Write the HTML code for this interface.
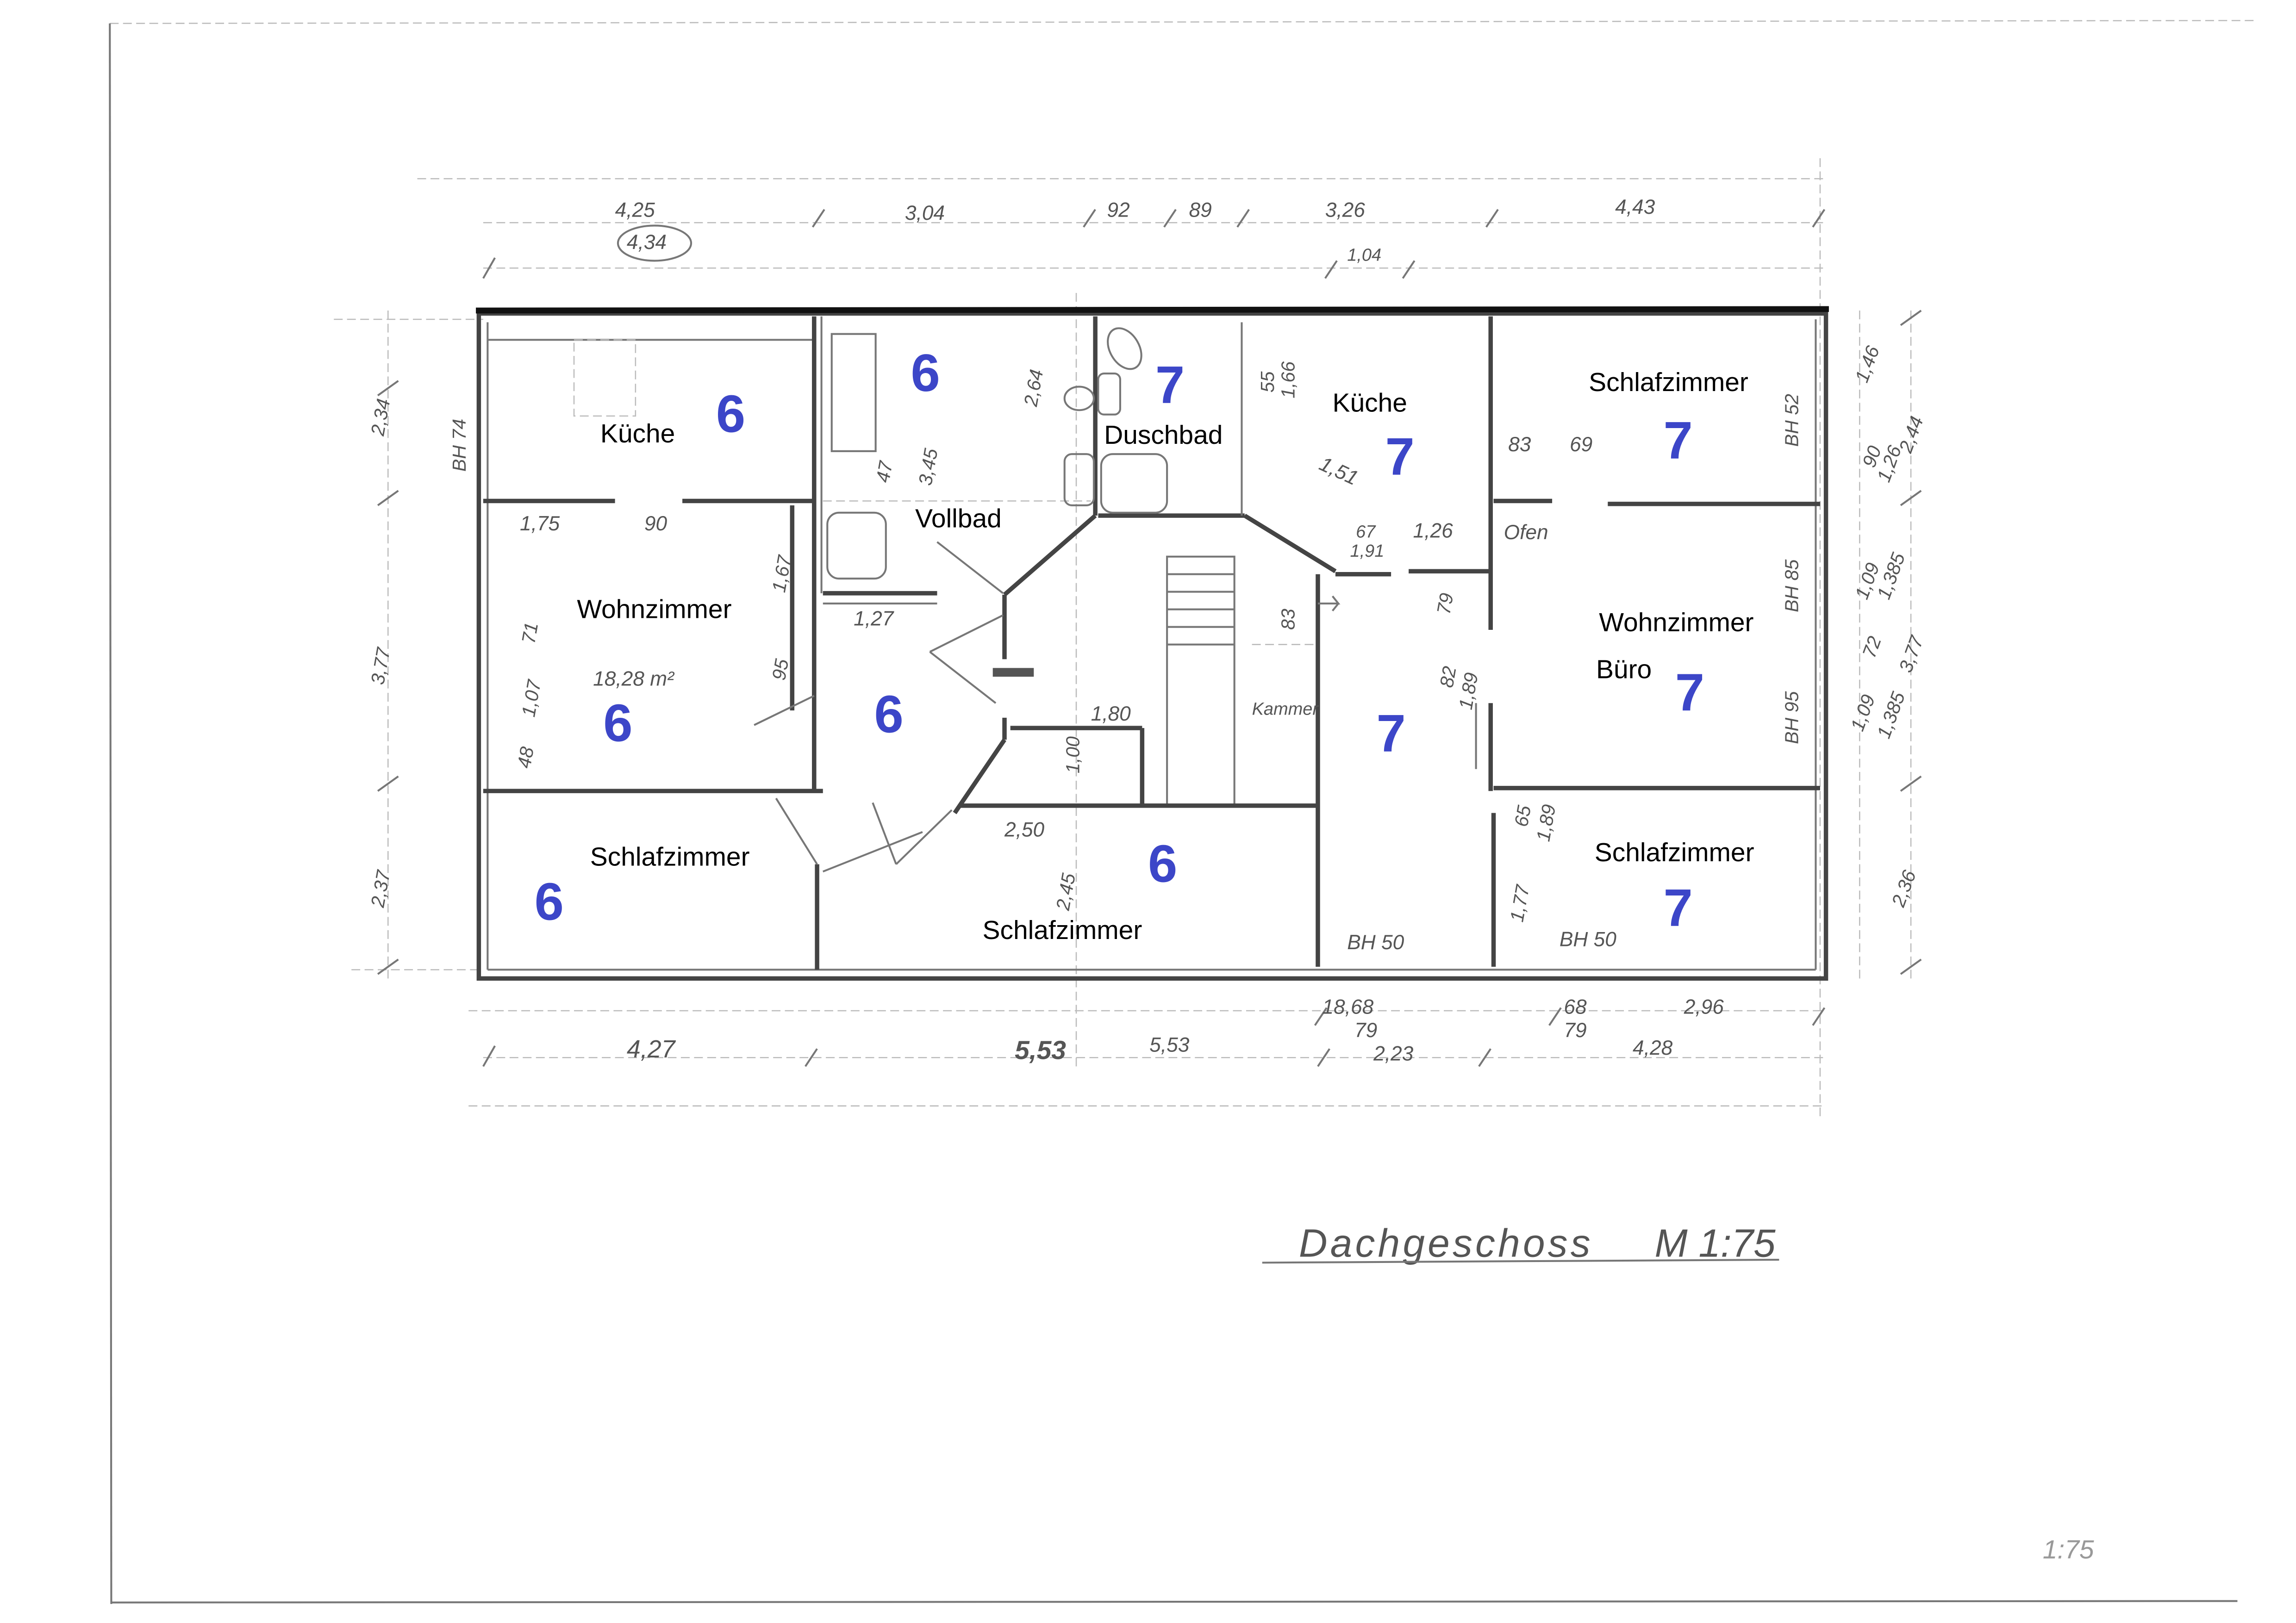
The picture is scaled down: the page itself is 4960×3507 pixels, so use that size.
<!DOCTYPE html>
<html><head><meta charset="utf-8"><style>
html,body{margin:0;padding:0;background:#fff;}
svg{display:block;}
.w{stroke:#444;stroke-width:3;fill:none;}
.t{stroke:#777;stroke-width:1.3;fill:none;}
.d{stroke:#bbb;stroke-width:0.8;fill:none;stroke-dasharray:6 3;}
.lab{font-family:"Liberation Sans",sans-serif;font-size:18px;fill:#000;}
.num{font-family:"Liberation Sans",sans-serif;font-size:36px;font-weight:bold;fill:#3c46c8;}
.h{font-family:"Liberation Sans",sans-serif;font-style:italic;font-size:14px;fill:#555;}
</style></head><body>
<svg width="4960" height="3507" viewBox="0 0 1568 1108" preserveAspectRatio="none" xmlns="http://www.w3.org/2000/svg">
<rect width="1568" height="1108" fill="#fff"/>
<line class="d" x1="75" y1="16" x2="1540" y2="14"/>
<line class="t" x1="75" y1="16" x2="76" y2="1095"/>
<line class="t" x1="76" y1="1094" x2="1528" y2="1093"/>
<line class="d" x1="330" y1="183" x2="1245" y2="183"/>
<line class="d" x1="330" y1="152" x2="1245" y2="152"/>
<line class="d" x1="285" y1="122" x2="1245" y2="122"/>
<line class="d" x1="330" y1="722" x2="1245" y2="722"/>
<line class="d" x1="320" y1="690" x2="1245" y2="690"/>
<line class="d" x1="320" y1="755" x2="1245" y2="755"/>
<line class="d" x1="265" y1="212" x2="265" y2="668"/>
<line class="d" x1="1305" y1="212" x2="1305" y2="668"/>
<line class="d" x1="1270" y1="212" x2="1270" y2="668"/>
<line class="d" x1="1243" y1="108" x2="1243" y2="765"/>
<line class="d" x1="228" y1="218" x2="330" y2="218"/>
<line class="d" x1="240" y1="662" x2="330" y2="662"/>
<line class="d" x1="735" y1="200" x2="735" y2="730"/>
<line class="d" x1="855" y1="440" x2="900" y2="440"/>
<g class="t">
<path d="M330 190l8-14M555 155l8-12M740 155l8-12M795 155l8-12M845 155l8-12M1015 155l8-12M1238 155l8-12M905 190l8-12M958 190l8-12"/>
<path d="M258 270l14-10M258 345l14-10M258 540l14-10M258 665l14-10M1298 345l14-10M1298 540l14-10M1298 665l14-10M1298 222l14-10"/>
<path d="M330 728l8-14M550 728l8-12M1010 728l8-12M900 728l8-12M1238 700l8-12M1058 700l8-12M898 700l8-12"/>
</g>
<ellipse cx="447" cy="166" rx="25" ry="12" class="t"/>
<rect x="327" y="214" width="920" height="454" class="w"/>
<line x1="325" y1="212" x2="1249" y2="211" stroke="#111" stroke-width="4"/>
<line class="t" x1="333" y1="220" x2="333" y2="662"/>
<line class="t" x1="333" y1="662" x2="1240" y2="662"/>
<line class="t" x1="1240" y1="218" x2="1240" y2="662"/>
<line class="w" x1="330" y1="342" x2="420" y2="342"/>
<line class="w" x1="466" y1="342" x2="556" y2="342"/>
<line class="t" x1="333" y1="232" x2="556" y2="232"/>
<rect x="392" y="232" width="42" height="52" class="d" stroke="#777"/>
<line class="w" x1="556" y1="216" x2="556" y2="540"/>
<line class="t" x1="561" y1="216" x2="561" y2="405"/>
<line class="w" x1="330" y1="540" x2="562" y2="540"/>
<line class="w" x1="541" y1="345" x2="541" y2="485"/>
<line class="w" x1="558" y1="590" x2="558" y2="662"/>
<line class="t" x1="530" y1="545" x2="558" y2="590"/>
<line class="t" x1="515" y1="495" x2="556" y2="475"/>
<line class="t" x1="562" y1="595" x2="630" y2="568"/>
<line class="w" x1="748" y1="216" x2="748" y2="352"/>
<line class="w" x1="748" y1="352" x2="686" y2="406"/>
<line class="w" x1="562" y1="405" x2="640" y2="405"/>
<line class="t" x1="562" y1="412" x2="640" y2="412"/>
<rect x="568" y="228" width="30" height="80" class="t"/>
<rect x="565" y="350" width="40" height="45" rx="8" class="t"/>
<line class="d" x1="562" y1="342" x2="745" y2="342" stroke="#777"/>
<line class="t" x1="640" y1="370" x2="685" y2="405"/>
<line class="w" x1="686" y1="406" x2="686" y2="450"/>
<line class="w" x1="686" y1="490" x2="686" y2="505"/>
<line class="w" x1="686" y1="505" x2="652" y2="555"/>
<line class="t" x1="635" y1="445" x2="685" y2="420"/>
<line class="t" x1="635" y1="445" x2="680" y2="480"/>
<path d="M678 456h28v6h-28z" fill="#555"/>
<line class="w" x1="690" y1="497" x2="780" y2="497"/>
<line class="w" x1="780" y1="497" x2="780" y2="550"/>
<line class="t" x1="596" y1="548" x2="612" y2="590"/>
<line class="t" x1="612" y1="590" x2="650" y2="553"/>
<line class="w" x1="750" y1="352" x2="850" y2="352"/>
<line class="w" x1="850" y1="352" x2="912" y2="390"/>
<line class="t" x1="848" y1="220" x2="848" y2="352"/>
<ellipse cx="768" cy="238" rx="10" ry="15" class="t" transform="rotate(-30 768 238)"/>
<rect x="750" y="255" width="15" height="28" rx="4" class="t"/>
<ellipse cx="737" cy="272" rx="10" ry="8" class="t"/>
<rect x="752" y="310" width="45" height="40" rx="8" class="t"/>
<rect x="727" y="310" width="20" height="35" rx="5" class="t"/>
<rect x="797" y="380" width="46" height="170" class="t"/>
<g class="t"><path d="M797 392h46M797 404h46M797 416h46M797 428h46M797 440h46"/></g>
<line class="w" x1="655" y1="550" x2="900" y2="550" stroke-width="1.5"/>
<line class="w" x1="900" y1="392" x2="900" y2="660"/>
<line class="w" x1="912" y1="392" x2="950" y2="392"/>
<line class="w" x1="962" y1="390" x2="1018" y2="390"/>
<path d="M900 412h14l-4-5M914 412l-4 5" class="t"/>
<line class="w" x1="1018" y1="216" x2="1018" y2="430"/>
<line class="w" x1="1018" y1="480" x2="1018" y2="540"/>
<line class="w" x1="1020" y1="555" x2="1020" y2="660"/>
<line class="t" x1="1008" y1="480" x2="1008" y2="525"/>
<line class="w" x1="1020" y1="342" x2="1060" y2="342"/>
<line class="w" x1="1098" y1="344" x2="1243" y2="344"/>
<line class="w" x1="1020" y1="538" x2="1243" y2="538"/>
<text class="lab" x="410" y="302">Küche</text>
<text class="lab" x="394" y="422">Wohnzimmer</text>
<text class="lab" x="403" y="591">Schlafzimmer</text>
<text class="lab" x="625" y="360">Vollbad</text>
<text class="lab" x="754" y="303">Duschbad</text>
<text class="lab" x="910" y="281">Küche</text>
<text class="lab" x="1085" y="267">Schlafzimmer</text>
<text class="lab" x="1092" y="431">Wohnzimmer</text>
<text class="lab" x="1090" y="463">Büro</text>
<text class="lab" x="1089" y="588">Schlafzimmer</text>
<text class="lab" x="671" y="641">Schlafzimmer</text>
<text class="num" x="489" y="295">6</text>
<text class="num" x="622" y="267">6</text>
<text class="num" x="412" y="506">6</text>
<text class="num" x="597" y="500">6</text>
<text class="num" x="365" y="628">6</text>
<text class="num" x="784" y="602">6</text>
<text class="num" x="789" y="275">7</text>
<text class="num" x="946" y="324">7</text>
<text class="num" x="1136" y="313">7</text>
<text class="num" x="1144" y="485">7</text>
<text class="num" x="940" y="513">7</text>
<text class="num" x="1136" y="632">7</text>
<text class="h" x="420" y="148">4,25</text>
<text class="h" x="428" y="170">4,34</text>
<text class="h" x="618" y="150">3,04</text>
<text class="h" x="756" y="148">92</text>
<text class="h" x="812" y="148">89</text>
<text class="h" x="905" y="148">3,26</text>
<text class="h" x="1103" y="146">4,43</text>
<text class="h" x="920" y="178" style="font-size:12px">1,04</text>
<text class="h" x="428" y="722" style="font-size:17px">4,27</text>
<text class="h" x="693" y="723" style="font-size:18px;font-weight:bold">5,53</text>
<text class="h" x="785" y="718">5,53</text>
<text class="h" x="903" y="692">18,68</text>
<text class="h" x="925" y="708">79</text>
<text class="h" x="938" y="724">2,23</text>
<text class="h" x="1068" y="692">68</text>
<text class="h" x="1068" y="708">79</text>
<text class="h" x="1150" y="692">2,96</text>
<text class="h" x="1115" y="720">4,28</text>
<text class="h" x="355" y="362">1,75</text>
<text class="h" x="440" y="362">90</text>
<text class="h" x="583" y="427">1,27</text>
<text class="h" x="405" y="468">18,28 m²</text>
<text class="h" x="745" y="492">1,80</text>
<text class="h" x="686" y="571">2,50</text>
<text class="h" x="926" y="367" style="font-size:12px">67</text>
<text class="h" x="965" y="367">1,26</text>
<text class="h" x="922" y="380" style="font-size:12px">1,91</text>
<text class="h" x="1030" y="308">83</text>
<text class="h" x="1072" y="308">69</text>
<text class="h" x="1027" y="368">Ofen</text>
<text class="h" x="855" y="488" style="font-size:12px">Kammer</text>
<text class="h" x="920" y="648">BH 50</text>
<text class="h" x="1065" y="646">BH 50</text>
<text class="h" x="900" y="320" transform="rotate(25 900 320)">1,51</text>
<g class="h" style="font-size:13px">
<text transform="translate(262 298) rotate(-80)">2,34</text>
<text transform="translate(262 468) rotate(-80)">3,77</text>
<text transform="translate(262 620) rotate(-80)">2,37</text>
<text transform="translate(318 322) rotate(-90)">BH 74</text>
<text transform="translate(536 405) rotate(-80)">1,67</text>
<text transform="translate(536 465) rotate(-80)">95</text>
<text transform="translate(365 490) rotate(-80)">1,07</text>
<text transform="translate(365 440) rotate(-80)">71</text>
<text transform="translate(362 525) rotate(-80)">48</text>
<text transform="translate(607 330) rotate(-80)">47</text>
<text transform="translate(636 332) rotate(-80)">3,45</text>
<text transform="translate(708 278) rotate(-80)">2,64</text>
<text transform="translate(737 528) rotate(-90)">1,00</text>
<text transform="translate(730 622) rotate(-80)">2,45</text>
<text transform="translate(870 268) rotate(-90)">55</text>
<text transform="translate(884 272) rotate(-90)">1,66</text>
<text transform="translate(884 430) rotate(-90)">83</text>
<text transform="translate(990 420) rotate(-80)">79</text>
<text transform="translate(992 470) rotate(-80)">82</text>
<text transform="translate(1005 485) rotate(-80)">1,89</text>
<text transform="translate(1043 565) rotate(-80)">65</text>
<text transform="translate(1058 575) rotate(-80)">1,89</text>
<text transform="translate(1040 630) rotate(-80)">1,77</text>
<text transform="translate(1228 305) rotate(-90)">BH 52</text>
<text transform="translate(1228 418) rotate(-90)">BH 85</text>
<text transform="translate(1228 508) rotate(-90)">BH 95</text>
<text transform="translate(1275 262) rotate(-70)">1,46</text>
<text transform="translate(1305 310) rotate(-70)">2,44</text>
<text transform="translate(1280 320) rotate(-70)">90</text>
<text transform="translate(1290 330) rotate(-70)">1,26</text>
<text transform="translate(1275 410) rotate(-70)">1,09</text>
<text transform="translate(1290 410) rotate(-70)">1,385</text>
<text transform="translate(1280 450) rotate(-70)">72</text>
<text transform="translate(1305 460) rotate(-70)">3,77</text>
<text transform="translate(1272 500) rotate(-70)">1,09</text>
<text transform="translate(1290 505) rotate(-70)">1,385</text>
<text transform="translate(1300 620) rotate(-70)">2,36</text>
</g>
<text class="h" x="887" y="858" style="font-size:27px;letter-spacing:2px">Dachgeschoss</text>
<text class="h" x="1130" y="858" style="font-size:27px">M 1:75</text>
<line class="t" x1="862" y1="862" x2="1215" y2="860"/>
<text class="h" x="1395" y="1064" style="font-size:18px;fill:#999">1:75</text>
</svg>
</body></html>
